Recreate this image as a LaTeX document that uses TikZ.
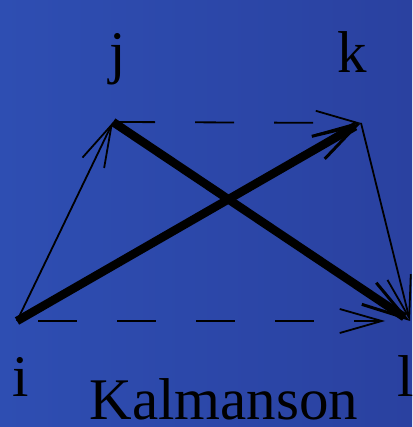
\documentclass[tikz,border=0pt]{standalone}
\usepackage{fontspec}
\setmainfont{Liberation Serif}
\usetikzlibrary{arrows.meta}
\definecolor{bgL}{HTML}{2E4EB2}
\definecolor{bgR}{HTML}{2A41A0}
\begin{document}
\begin{tikzpicture}[x=1pt,y=1pt,
  lbl/.style={anchor=base,inner sep=0pt,font=\fontsize{59}{60}\selectfont},
  thinarr/.style={line width=1.8pt,-{Straight Barb[length=42pt,width=24pt,line width=1.8pt]}},
  dasharr/.style={thinarr,dash pattern=on 39pt off 40pt},
  thickarr/.style={line width=8.5pt,-{Straight Barb[length=44pt,width=26pt,line width=3pt]}}]
\useasboundingbox (0,0) rectangle (412,427);
\shade[left color=bgL,right color=bgR] (0,0) rectangle (412,427);
\coordinate (i) at (17,106);
\coordinate (j) at (113,305);
\coordinate (k) at (361,304);
\coordinate (l) at (410,106);
\coordinate (il0) at (38,106);
\coordinate (il1) at (385,106);
\coordinate (jk0) at (116,305);
\draw[thinarr] (i) -- (j);
\draw[thinarr] (k) -- (l);
\draw[dasharr] (jk0) -- (k);
\draw[dasharr] (il0) -- (il1);
\draw[thickarr] (i) -- (k);
\draw[thickarr] (j) -- (l);
\node[lbl] (ti) at (21,30) {i};
\node[lbl] (tj) at (118,354) {j};
\node[lbl] (tk) at (352,354) {k};
\node[lbl] (tl) at (406,30) {l};
\node[lbl] (tt) at (224,7) {Kalmanson};
\end{tikzpicture}
\end{document}
